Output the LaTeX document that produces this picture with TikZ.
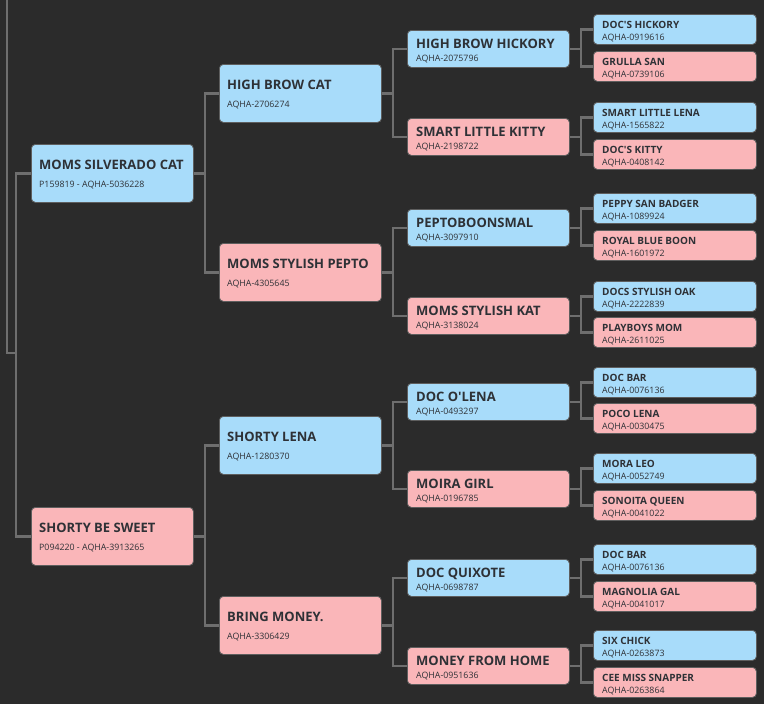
\documentclass[tikz,border=0pt]{standalone}
\usepackage{fontspec}
\setmainfont{Open Sans}
\definecolor{bgc}{HTML}{2B2B2B}
\definecolor{linec}{HTML}{6E6E6E}
\definecolor{sirec}{HTML}{A8DCFA}
\definecolor{damc}{HTML}{FAB6B9}
\definecolor{edgec}{HTML}{5E5E5E}
\definecolor{txtc}{HTML}{2E3136}
\tikzset{
  pbox/.style={rectangle, rounded corners=4pt, draw=edgec, line width=0.8pt, anchor=north west, inner sep=0pt},
  sire/.style={fill=sirec},
  dam/.style={fill=damc},
  conn/.style={draw=linec, line width=2.5pt},
  bigname/.style={font=\fontsize{13}{15}\selectfont\bfseries, text=txtc, inner sep=0pt, anchor=base west},
  smallname/.style={font=\fontsize{10}{12}\selectfont\bfseries, text=txtc, inner sep=0pt, anchor=base west},
  regtxt/.style={font=\fontsize{8.8}{10}\selectfont, text=txtc, inner sep=0pt, anchor=base west},
}
% #1 node id, #2 style, #3 x, #4 y top, #5 name, #6 registration
\newcommand{\gbigbox}[6]{%
  \node[pbox,#2,minimum width=162pt,minimum height=58pt] (#1) at (#3,#4) {};
  \node[bigname] (#1n) at ([xshift=8pt,yshift=-25pt]#1.north west) {#5};
  \node[regtxt] (#1r) at ([xshift=8pt,yshift=-43pt]#1.north west) {#6};
}
\newcommand{\gmidbox}[6]{%
  \node[pbox,#2,minimum width=162pt,minimum height=37pt] (#1) at (#3,#4) {};
  \node[bigname] (#1n) at ([xshift=9pt,yshift=-18pt]#1.north west) {#5};
  \node[regtxt] (#1r) at ([xshift=9pt,yshift=-31pt]#1.north west) {#6};
}
\newcommand{\gsmallbox}[6]{%
  \node[pbox,#2,minimum width=163pt,minimum height=30pt] (#1) at (#3,#4) {};
  \node[smallname] (#1n) at ([xshift=9pt,yshift=-14pt]#1.north west) {#5};
  \node[regtxt] (#1r) at ([xshift=9pt,yshift=-26pt]#1.north west) {#6};
}
\newcommand{\apos}{\textquotesingle}
\begin{document}
\begin{tikzpicture}[x=1pt,y=-1pt]
\fill[bgc] (0,0) rectangle (764,704);
\useasboundingbox (0,0) rectangle (764,704);

% generation 1
\gbigbox{a}{sire}{31}{144}{MOMS SILVERADO CAT}{P159819 - AQHA-5036228}
\gbigbox{b}{dam}{31}{507}{SHORTY BE SWEET}{P094220 - AQHA-3913265}

% generation 2
\gbigbox{aa}{sire}{219}{64}{HIGH BROW CAT}{AQHA-2706274}
\gbigbox{ab}{dam}{219}{243}{MOMS STYLISH PEPTO}{AQHA-4305645}
\gbigbox{ba}{sire}{219}{416}{SHORTY LENA}{AQHA-1280370}
\gbigbox{bb}{dam}{219}{596}{BRING MONEY.}{AQHA-3306429}

% generation 3
\gmidbox{aaa}{sire}{407}{30}{HIGH BROW HICKORY}{AQHA-2075796}
\gmidbox{aab}{dam}{407}{118}{SMART LITTLE KITTY}{AQHA-2198722}
\gmidbox{aba}{sire}{407}{209}{PEPTOBOONSMAL}{AQHA-3097910}
\gmidbox{abb}{dam}{407}{297}{MOMS STYLISH KAT}{AQHA-3138024}
\gmidbox{baa}{sire}{407}{383}{DOC O\apos LENA}{AQHA-0493297}
\gmidbox{bab}{dam}{407}{470}{MOIRA GIRL}{AQHA-0196785}
\gmidbox{bba}{sire}{407}{559}{DOC QUIXOTE}{AQHA-0698787}
\gmidbox{bbb}{dam}{407}{647}{MONEY FROM HOME}{AQHA-0951636}

% generation 4
\gsmallbox{aaaa}{sire}{593}{14}{DOC\apos S HICKORY}{AQHA-0919616}
\gsmallbox{aaab}{dam}{593}{51}{GRULLA SAN}{AQHA-0739106}
\gsmallbox{aaba}{sire}{593}{102}{SMART LITTLE LENA}{AQHA-1565822}
\gsmallbox{aabb}{dam}{593}{139}{DOC\apos S KITTY}{AQHA-0408142}
\gsmallbox{abaa}{sire}{593}{193}{PEPPY SAN BADGER}{AQHA-1089924}
\gsmallbox{abab}{dam}{593}{230}{ROYAL BLUE BOON}{AQHA-1601972}
\gsmallbox{abba}{sire}{593}{281}{DOCS STYLISH OAK}{AQHA-2222839}
\gsmallbox{abbb}{dam}{593}{317}{PLAYBOYS MOM}{AQHA-2611025}
\gsmallbox{baaa}{sire}{593}{367}{DOC BAR}{AQHA-0076136}
\gsmallbox{baab}{dam}{593}{403}{POCO LENA}{AQHA-0030475}
\gsmallbox{baba}{sire}{593}{453}{MORA LEO}{AQHA-0052749}
\gsmallbox{babb}{dam}{593}{490}{SONOITA QUEEN}{AQHA-0041022}
\gsmallbox{bbaa}{sire}{593}{544}{DOC BAR}{AQHA-0076136}
\gsmallbox{bbab}{dam}{593}{581}{MAGNOLIA GAL}{AQHA-0041017}
\gsmallbox{bbba}{sire}{593}{630}{SIX CHICK}{AQHA-0263873}
\gsmallbox{bbbb}{dam}{593}{667}{CEE MISS SNAPPER}{AQHA-0263864}

% connectors
\coordinate (top) at (7,0);
\coordinate (root) at (16,353);
\draw[conn] (top) |- (root);
\draw[conn] (root) |- (a.west);
\draw[conn] (root) |- (b.west);
\foreach \p in {a,b,aa,ab,ba,bb,aaa,aab,aba,abb,baa,bab,bba,bbb}{
  \draw[conn] (\p.east) -- ++(11,0) coordinate (\p j) |- (\p a.west);
  \draw[conn] (\p j) |- (\p b.west);
}
\end{tikzpicture}
\end{document}
